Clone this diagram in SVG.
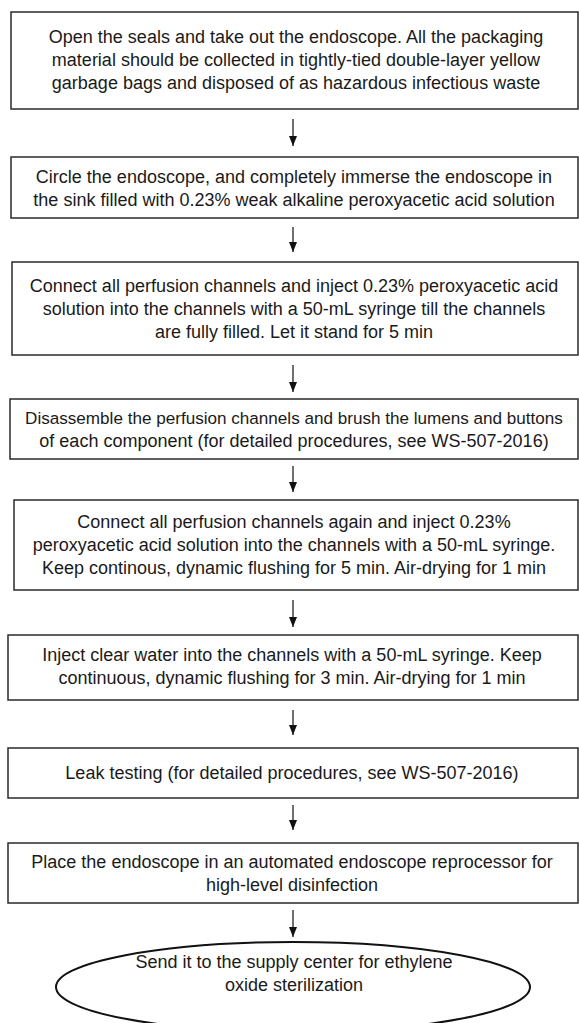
<svg xmlns="http://www.w3.org/2000/svg" width="579" height="1023" viewBox="0 0 579 1023">
<defs>
<style>
.box{fill:#fff;stroke:#2a2a2a;stroke-width:1.5}
.ell{fill:#fff;stroke:#111;stroke-width:2}
.t{font-family:"Liberation Sans",Arial,sans-serif;font-size:18px;fill:#1a1a1a;text-anchor:middle}
.s{font-size:17.1px}
.c{stroke:#222;stroke-width:1.3;fill:none;marker-end:url(#ah)}
</style>
<marker id="ah" viewBox="0 0 10 8" refX="10" refY="4" markerWidth="10" markerHeight="8" markerUnits="userSpaceOnUse" orient="auto">
<path d="M0,0 L10,4 L0,8 Z" fill="#111"/>
</marker>
</defs>
<rect width="579" height="1023" fill="#fff"/>
<g id="n1"><rect class="box" x="11" y="12" width="567" height="97"/>
<text class="t" x="296" y="43">Open the seals and take out the endoscope. All the packaging</text>
<text class="t" x="296" y="66">material should be collected in tightly-tied double-layer yellow</text>
<text class="t" x="296" y="89">garbage bags and disposed of as hazardous infectious waste</text></g>
<g id="n2"><rect class="box" x="11" y="157" width="567" height="61"/>
<text class="t" x="294" y="182.5">Circle the endoscope, and completely immerse the endoscope in</text>
<text class="t" x="294" y="205.5">the sink filled with 0.23% weak alkaline peroxyacetic acid solution</text></g>
<g id="n3"><rect class="box" x="12" y="262" width="566" height="93"/>
<text class="t" x="294" y="291.5">Connect all perfusion channels and inject 0.23% peroxyacetic acid</text>
<text class="t" x="294" y="314.5">solution into the channels with a 50-mL syringe till the channels</text>
<text class="t" x="294" y="337.5">are fully filled. Let it stand for 5 min</text></g>
<g id="n4"><rect class="box" x="10" y="399" width="568" height="60"/>
<text class="t s" x="294" y="424">Disassemble the perfusion channels and brush the lumens and buttons</text>
<text class="t" x="294" y="447">of each component (for detailed procedures, see WS-507-2016)</text></g>
<g id="n5"><rect class="box" x="14" y="500" width="564" height="90"/>
<text class="t" x="294" y="527.5">Connect all perfusion channels again and inject 0.23%</text>
<text class="t" x="294" y="550.5">peroxyacetic acid solution into the channels with a 50-mL syringe.</text>
<text class="t" x="294" y="573.5">Keep continous, dynamic flushing for 5 min. Air-drying for 1 min</text></g>
<g id="n6"><rect class="box" x="8" y="635" width="570" height="65"/>
<text class="t" x="292" y="661">Inject clear water into the channels with a 50-mL syringe. Keep</text>
<text class="t" x="292" y="684">continuous, dynamic flushing for 3 min. Air-drying for 1 min</text></g>
<g id="n7"><rect class="box" x="8" y="748" width="570" height="50"/>
<text class="t" x="292" y="779">Leak testing (for detailed procedures, see WS-507-2016)</text></g>
<g id="n8"><rect class="box" x="8" y="843" width="570" height="60"/>
<text class="t" x="292" y="867.5">Place the endoscope in an automated endoscope reprocessor for</text>
<text class="t" x="292" y="890.5">high-level disinfection</text></g>
<g id="n9"><ellipse class="ell" cx="293" cy="987" rx="237" ry="45"/>
<text class="t" x="294" y="968">Send it to the supply center for ethylene</text>
<text class="t" x="294" y="991">oxide sterilization</text></g>
<g id="connectors">
<line class="c" x1="293" y1="119" x2="293" y2="146"/>
<line class="c" x1="293" y1="227" x2="293" y2="252"/>
<line class="c" x1="293" y1="365" x2="293" y2="392"/>
<line class="c" x1="293" y1="466" x2="293" y2="492"/>
<line class="c" x1="293" y1="600" x2="293" y2="627"/>
<line class="c" x1="293" y1="710" x2="293" y2="735"/>
<line class="c" x1="293" y1="805" x2="293" y2="830"/>
<line class="c" x1="293" y1="910" x2="293" y2="937"/>
</g>
</svg>
